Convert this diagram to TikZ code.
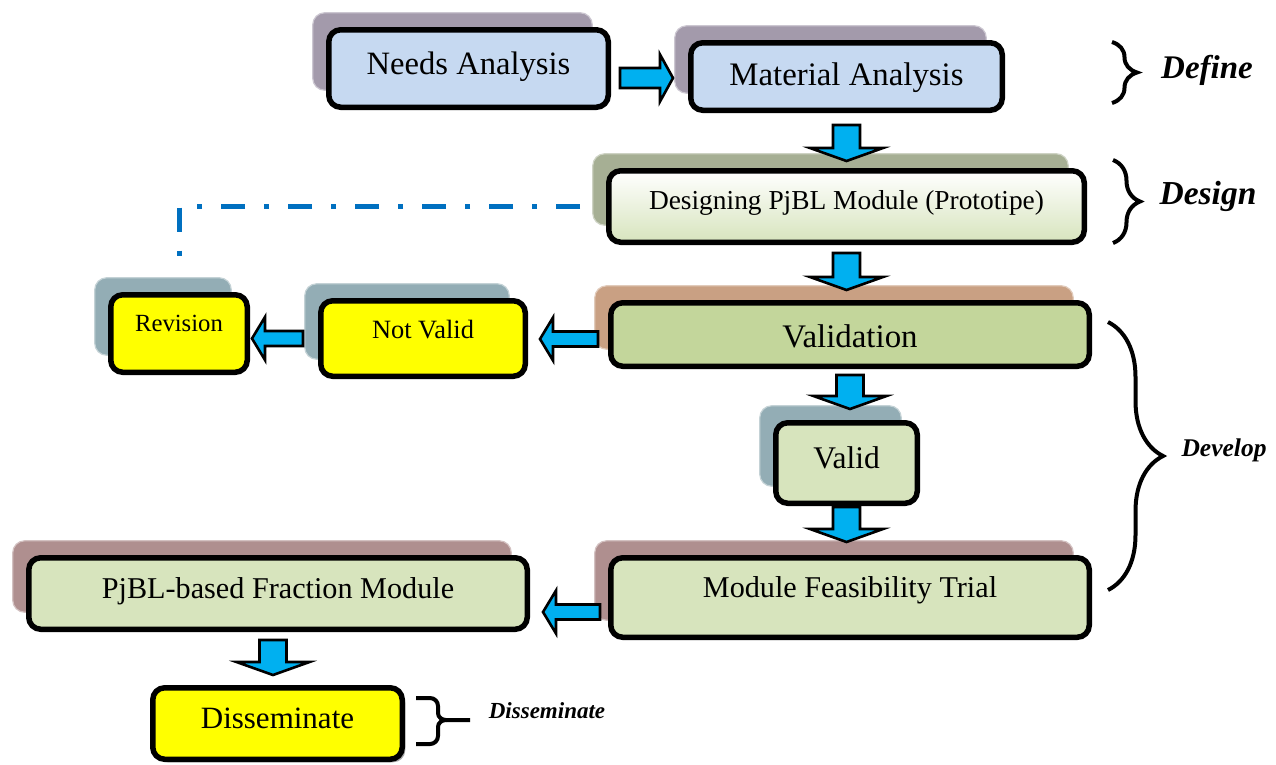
\documentclass[tikz,border=0pt]{standalone}
\usepackage{fontspec}
\setmainfont{Liberation Serif}
\usetikzlibrary{shadows,calc,decorations.pathreplacing}

\definecolor{skyfill}{HTML}{C6D9F1}
\definecolor{olivefill}{HTML}{C3D69B}
\definecolor{palegreen}{HTML}{D7E4BD}
\definecolor{brightyellow}{HTML}{FFFF00}
\definecolor{cardpurple}{HTML}{A39AAB}
\definecolor{cardsage}{HTML}{A6AF94}
\definecolor{cardtan}{HTML}{C9A083}
\definecolor{cardslate}{HTML}{93ADB5}
\definecolor{cardmauve}{HTML}{AF8F8F}
\definecolor{arrowblue}{HTML}{00B0F0}
\definecolor{loopblue}{HTML}{0070C0}

\tikzset{
  mainbox/.style={draw=black, line width=5.5pt, rounded corners=12pt,
    inner sep=0pt, text height=30pt, align=center},
  backcard/.style={general shadow={shadow xshift=-16pt, shadow yshift=17pt,
    fill=#1, draw=#1!55!white, line width=1.2pt}},
  fs/.style={font=\fontsize{#1}{#1}\selectfont},
  stage/.style={font=\fontsize{#1}{#1}\selectfont\bfseries\itshape, inner sep=0pt},
  blockarr/.style={draw=black, fill=arrowblue, line width=2.6pt, line join=miter},
  bracepath/.style={draw, decorate, decoration={brace, amplitude=#1}, line width=4pt},
  revline/.style={draw=loopblue, line width=5pt,
    dash pattern=on 24pt off 19pt on 5pt off 19pt},
}

% vertical block arrow: tail point, tip point (x taken from the tail)
\newcommand\vblock[2]{%
  \draw[blockarr] let \p1=(#1), \p2=(#2) in
    ({\x1-13.5pt},\y1) -- ({\x1+13.5pt},\y1) -- ({\x1+13.5pt},{\y2+13pt})
    -- ({\x1+36.5pt},{\y2+13pt}) -- (\x1,\y2) -- ({\x1-36.5pt},{\y2+13pt})
    -- ({\x1-13.5pt},{\y2+13pt}) -- cycle;}

% horizontal block arrow: tail, tip, signed head length, shaft half height, head half height
\newcommand\hblock[5]{%
  \draw[blockarr] let \p1=(#1), \p2=(#2) in
    (\x1,{\y1+#4}) -- ({\x2-(#3)},{\y1+#4}) -- ({\x2-(#3)},{\y1+#5}) -- (\x2,\y1)
    -- ({\x2-(#3)},{\y1-#5}) -- ({\x2-(#3)},{\y1-#4}) -- (\x1,{\y1-#4}) -- cycle;}

\begin{document}
\begin{tikzpicture}[x=1pt, y=-1pt]
\fill[white] (0,0) rectangle (1276,764);
\useasboundingbox (0,0) rectangle (1276,764);

% process boxes
\node[mainbox, fill=skyfill, backcard=cardpurple, fs=32.6,
  minimum width=279.5pt, minimum height=77.5pt, text depth=17.5pt]
  (na) at (468.5,68.5) {Needs Analysis};
\node[mainbox, fill=skyfill, backcard=cardpurple, fs=32.8,
  minimum width=311.5pt, minimum height=67.5pt, text depth=11.4pt]
  (ma) at (846.5,76.5) {Material Analysis};
\node[mainbox, top color=white, bottom color=palegreen, backcard=cardsage, fs=27.4,
  minimum width=475.5pt, minimum height=71.5pt, text depth=24.9pt]
  (dp) at (846.5,206.5) {Designing PjBL Module (Prototipe)};
\node[mainbox, fill=olivefill, backcard=cardtan, fs=32.9,
  minimum width=478.5pt, minimum height=63.5pt, text depth=3.3pt]
  (vn) at (850,334.5) {Validation};
\node[mainbox, fill=brightyellow, backcard=cardslate, fs=26.4,
  minimum width=204.5pt, minimum height=75.5pt, text depth=29.6pt]
  (nv) at (423,338.5) {Not Valid};
\node[mainbox, fill=brightyellow, backcard=cardslate, fs=24.7,
  minimum width=136.5pt, minimum height=77.5pt, text depth=34.7pt]
  (rv) at (179,333.5) {Revision};
\node[mainbox, fill=palegreen, backcard=cardslate, fs=31.5,
  minimum width=141.5pt, minimum height=80.5pt, text depth=19.2pt]
  (vd) at (846.5,463) {Valid};
\node[mainbox, fill=palegreen, backcard=cardmauve, fs=30.2,
  minimum width=478.5pt, minimum height=79.5pt, text depth=29.1pt]
  (mf) at (850,597.5) {Module Feasibility Trial};
\node[mainbox, fill=palegreen, backcard=cardmauve, fs=30.2,
  minimum width=498.5pt, minimum height=71.5pt, text depth=19.1pt]
  (pf) at (278,593.5) {PjBL-based Fraction Module};
\node[mainbox, fill=brightyellow, fs=31,
  general shadow={shadow xshift=3pt, shadow yshift=-3pt, fill=black!35},
  minimum width=249.5pt, minimum height=71.5pt, text depth=20.5pt]
  (ds) at (277.5,723.5) {Disseminate};

% revision loop back to the design stage
\draw[revline] ([xshift=-26pt]dp.west) -| ([yshift=24pt]rv.north);

% flow arrows
\hblock{[shift={(9pt,-9.5pt)}]na.east}{[xshift=-15pt]ma.west}{13pt}{10pt}{23.5pt}
\vblock{[yshift=-12pt]ma.south}{[yshift=7pt]dp.north}
\vblock{[yshift=-8pt]dp.south}{[yshift=10pt]vn.north}
\hblock{[shift={(-10pt,-4.5pt)}]vn.west}{[xshift=12pt]nv.east}{-13pt}{7.5pt}{21.5pt}
\hblock{[xshift=-15pt]nv.west}{[xshift=2pt]rv.east}{-13pt}{7.5pt}{21.5pt}
\vblock{[yshift=-6pt]vn.south}{[yshift=11pt]vd.north}
\vblock{[yshift=-1pt]vd.south}{[yshift=13pt]mf.north}
\hblock{[shift={(-8pt,-14.5pt)}]mf.west}{[xshift=13pt]pf.east}{-13pt}{7.5pt}{21.5pt}
\vblock{[shift={(-5pt,-8pt)}]pf.south}{[yshift=10pt]ds.north}

% stage braces
\draw[bracepath=25pt] (1112,42) -- (1112,103);
\draw[bracepath=27pt] (1113,160) -- (1113,243);
\draw[bracepath=55pt] (1108,322) -- (1108,590);
\draw[line width=4pt] (416,698) -- (430,698) to[out=0,in=90] (438,706) -- (438,713)
  to[out=-90,in=180] (446,720) -- (470,720);
\draw[line width=4pt] (416,744) -- (430,744) to[out=0,in=-90] (438,736) -- (438,727)
  to[out=90,in=180] (446,720);

% stage labels
\node[stage=33] (lbdefine) at (1207,70) {Define};
\node[stage=33.5] (lbdesign) at (1208,196) {Design};
\node[stage=25.5] (lbdevelop) at (1224,450) {Develop};
\node[stage=23] (lbdiss) at (547,711) {Disseminate};
\end{tikzpicture}
\end{document}
